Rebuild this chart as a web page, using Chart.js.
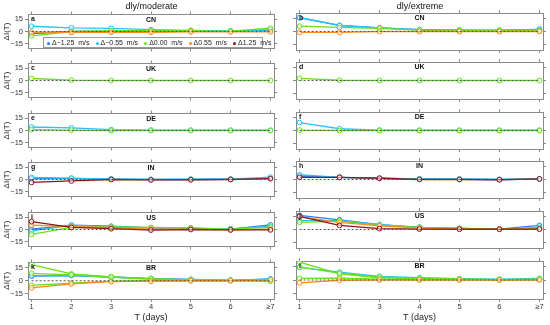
<!DOCTYPE html>
<html>
<head>
<meta charset="utf-8">
<script src="https://cdn.jsdelivr.net/npm/chart.js@4.4.1/dist/chart.umd.min.js"></script>
<style>
  body { margin: 0; background: #fff; width: 550px; height: 325px; position: relative; overflow: hidden;
         font-family: 'Liberation Sans', Arial, sans-serif; }
  canvas { position: absolute; }
  .col-title { position: absolute; top: 0; font-size: 9px; line-height: 12px; text-align: center; color: #111; }
  #legend { position: absolute; left: 43px; top: 37px; width: 215px; height: 9px; border: 1px solid #999;
            background: #fff; display: flex; align-items: center; gap: 6px; padding-left: 3px;
            font-size: 7px; color: #222; white-space: pre; z-index: 5; }
  #legend span.dot { display: inline-block; width: 3px; height: 3px; border-radius: 50%; margin-right: 2px; vertical-align: middle; }
</style>
</head>
<body>
<script>
// ---- data ----
const DAYS = ['1', '2', '3', '4', '5', '6', '≥7'];
const WIND = ['Δ−1.25  m/s', 'Δ−0.55  m/s', 'Δ0.00  m/s', 'Δ0.55  m/s', 'Δ1.25  m/s'];
const COUNTRIES = ['CN', 'UK', 'DE', 'IN', 'US', 'BR'];
const COLUMN_TITLES = ['dly/moderate', 'dly/extreme'];
const LETTERS = ['a', 'b', 'c', 'd', 'e', 'f', 'g', 'h', 'i', 'j', 'k', 'l'];
const Y_TICKS = [-15, 0, 15];

// each row: [wind class index, values for T = 1..≥7]
const CN_MOD = [
  [0, [-2.5, 0, 0.5, 0.5, 0.5, 0.5, 1.5]],
  [1, [6.5, 4.6, 3.8, 2.2, 1.5, 0.8, 2]],
  [2, [-5.4, 0, 1, 1, 1, 0.5, 4]],
  [3, [-0.8, -1.2, -1, -1, -0.5, -0.5, -0.5]]
];
const CN_EXT = [
  [0, [15.5, 7, 4, 2, 1.5, 1.2, 2.5]],
  [1, [16, 6.8, 4, 2, 1.5, 1.5, 2.5]],
  [2, [6, 4.6, 3.6, 1.5, 1, 1, 1]],
  [3, [-1, -1, 0, 0, 0, 0, 0]]
];
const UK_MOD = [
  [2, [2.5, 0.5, 0, 0, 0, 0, 0]]
];
const UK_EXT = [
  [2, [2.5, 0.3, 0, 0, 0, 0, 0]]
];
const DE_MOD = [
  [1, [4.3, 3.2, 1, 0.5, 0.5, 0.3, 0.3]],
  [2, [1, 0.5, 0, 0, 0, 0, 0]]
];
const DE_EXT = [
  [1, [9, 2, 0.5, 0.3, 0.3, 0.3, 0.3]],
  [2, [0.5, 0, 0, 0, 0, 0, 0]]
];
const IN_MOD = [
  [0, [1, 1, 0.5, 0, 0, 0.3, 1.5]],
  [1, [2.5, 1.8, 0.5, 0, 0.5, 0.5, 2.8]],
  [4, [-3.6, -1.8, 0, -0.5, -0.3, 0, 1]]
];
const IN_EXT = [
  [0, [4, 2.5, 1.4, 0.5, 0.3, 0, 0.5]],
  [1, [5.4, 2.5, 1.4, 0.7, 0.5, 0, 0.7]],
  [4, [2.5, 2.5, 1.4, 0, 0, -0.3, 0.7]]
];
const US_MOD = [
  [0, [0.3, 5.4, 4, 2, 1.5, 0.5, 5.7]],
  [1, [-1.8, 5, 3.5, 2, 1.5, 0.8, 4]],
  [2, [-6, 2.5, 3.2, 2.5, 2, 0.5, 2.8]],
  [3, [5.4, 3.5, 2.5, 0.5, 0.5, -0.5, 0.5]],
  [4, [9.7, 2.5, 1, -0.7, 0, -0.5, -0.5]]
];
const US_EXT = [
  [0, [16, 11, 5.4, 2.5, 1.2, 0.5, 4.6]],
  [1, [10, 10, 5.4, 2.5, 1.2, 0.5, 2.5]],
  [2, [8.2, 9.6, 4.6, 2.5, 1.2, 0.5, 1]],
  [3, [14.6, 8, 4, 1.5, 0.5, 0.3, 0.5]],
  [4, [15, 4.6, 1, 0.5, 0.3, 0.3, 0.5]]
];
const BR_MOD = [
  [0, [5.4, 6, 4.3, 2.5, 1.5, 0.5, 2]],
  [1, [6, 6.2, 4.3, 2.5, 1.5, 0.5, 1.8]],
  [2, [18.6, 7.9, 4.3, 2, 1, 0.5, 0.5]],
  [2, [8.6, 6.8, 4.3, 2, 1, 0.5, 0]],
  [2, [-5.4, -2.9, -0.5, 0, 0, 0, -0.5]],
  [3, [-8.2, -3.6, -1, -0.5, 0, 0, 1.4]]
];
const BR_EXT = [
  [1, [14, 8.6, 4, 2.5, 1.5, 1, 1.8]],
  [2, [19.7, 6.8, 2.5, 1.5, 1, 0.5, 1]],
  [2, [14.3, 7.5, 3.2, 2, 1, 0.5, 0.8]],
  [2, [1.8, 2, 1, 0.5, 0.5, 0, 0.5]],
  [3, [-3.2, -0.3, 0, 0, 0, 0, 0]]
];

const PANELS = [
  [CN_MOD, CN_EXT], [UK_MOD, UK_EXT], [DE_MOD, DE_EXT],
  [IN_MOD, IN_EXT], [US_MOD, US_EXT], [BR_MOD, BR_EXT]
];

// ---- style / layout ----
const COLORS = ['#2a7df5', '#26c4f2', '#66e01c', '#ff8a1a', '#8c1515'];
const FONT = "'Liberation Sans', Arial, sans-serif";
const FRAME = '#8a8a8a';
const COL_X = [[28, 275], [296, 544]];
const ZERO0 = 31, ROW_STEP = 49.6, HALF = 19.5;
const LW = 28, TOPH = 4, RW = 4;

Chart.defaults.font.family = FONT;

const panelText = {
  id: 'panelText',
  afterDraw(chart, args, opts) {
    const { ctx, chartArea: a } = chart;
    ctx.save();
    ctx.font = `bold 7px ${FONT}`;
    ctx.fillStyle = '#111';
    ctx.textBaseline = 'middle';
    ctx.fillText(opts.letter, a.left + 3, a.top + 5);
    ctx.textAlign = 'center';
    ctx.fillText(opts.country, (a.left + a.right) / 2, a.top + 5.5);
    ctx.restore();
  }
};

function axisGrid() {
  return { drawOnChartArea: false, tickLength: 3, color: FRAME, lineWidth: 1 };
}

function makePanel(r, c) {
  const [x0, x1] = COL_X[c];
  const z = ZERO0 + r * ROW_STEP;
  const top = Math.round(z - HALF), bottom = Math.round(z + HALF);
  const last = r === PANELS.length - 1;
  const BH = last ? 24 : 4;

  const cv = document.createElement('canvas');
  const w = LW + (x1 - x0) + RW, h = TOPH + (bottom - top) + BH;
  cv.width = w; cv.height = h;
  cv.style.left = (x0 - LW) + 'px';
  cv.style.top = (top - TOPH) + 'px';
  document.body.appendChild(cv);

  const rows = PANELS[r][c];
  const datasets = [{
    data: DAYS.map((d, i) => ({ x: i + 1, y: 0 })),
    borderColor: '#555', borderDash: [2, 2], borderWidth: 1, pointRadius: 0, order: -100
  }];
  rows.forEach(([wi, vals], k) => {
    datasets.push({
      label: WIND[wi],
      data: vals.map((v, i) => ({ x: i + 1, y: v })),
      borderColor: COLORS[wi],
      pointBorderColor: COLORS[wi],
      pointBackgroundColor: 'rgba(255,255,255,0.55)',
      pointRadius: 2.4, pointBorderWidth: 1, borderWidth: 1.3,
      order: -k
    });
  });

  const xTicks = s => { s.ticks = DAYS.map((d, i) => ({ value: i + 1 })); };
  const yTicks = s => { s.ticks = Y_TICKS.map(v => ({ value: v })); };

  new Chart(cv, {
    type: 'line',
    data: { datasets },
    options: {
      responsive: false, animation: false, devicePixelRatio: 1,
      layout: { padding: 0 },
      plugins: { legend: { display: false }, tooltip: { enabled: false },
                 panelText: { letter: LETTERS[r * 2 + c], country: COUNTRIES[r] } },
      scales: {
        x: {
          type: 'linear', position: 'bottom', min: 0.91, max: 7.09,
          afterBuildTicks: xTicks, afterFit: s => { s.height = BH; },
          ticks: { display: last, callback: v => DAYS[v - 1], font: { size: 7.5 }, color: '#333',
                   padding: 0, maxRotation: 0, autoSkip: false },
          grid: axisGrid(), border: { display: true, color: FRAME },
          title: { display: last, text: 'T (days)', font: { size: 9 }, color: '#222', padding: { top: 0, bottom: 0 } }
        },
        xTop: {
          type: 'linear', position: 'top', min: 0.91, max: 7.09,
          afterBuildTicks: xTicks, afterFit: s => { s.height = TOPH; },
          ticks: { display: false }, grid: axisGrid(), border: { display: true, color: FRAME }
        },
        y: {
          type: 'linear', position: 'left', min: -21, max: 21,
          afterBuildTicks: yTicks, afterFit: s => { s.width = LW; },
          ticks: { display: c === 0, callback: v => v < 0 ? '−' + Math.abs(v) : String(v),
                   font: { size: 7.5 }, color: '#333', padding: 2 },
          grid: axisGrid(), border: { display: true, color: FRAME },
          title: { display: c === 0, text: 'ΔI(T)', font: { size: 8 }, color: '#222', padding: { top: 2, bottom: 0 } }
        },
        yRight: {
          type: 'linear', position: 'right', min: -21, max: 21,
          afterBuildTicks: yTicks, afterFit: s => { s.width = RW; },
          ticks: { display: false }, grid: axisGrid(), border: { display: true, color: FRAME }
        }
      }
    },
    plugins: [panelText]
  });
}

for (let r = 0; r < PANELS.length; r++) {
  for (let c = 0; c < 2; c++) makePanel(r, c);
}

// column titles
COLUMN_TITLES.forEach((t, c) => {
  const d = document.createElement('div');
  d.className = 'col-title';
  d.style.left = COL_X[c][0] + 'px';
  d.style.width = (COL_X[c][1] - COL_X[c][0]) + 'px';
  d.textContent = t;
  document.body.appendChild(d);
});

// legend in panel a
const lg = document.createElement('div');
lg.id = 'legend';
WIND.forEach((name, i) => {
  const item = document.createElement('span');
  const dot = document.createElement('span');
  dot.className = 'dot';
  dot.style.background = COLORS[i];
  item.appendChild(dot);
  item.appendChild(document.createTextNode(name));
  lg.appendChild(item);
});
document.body.appendChild(lg);
</script>
</body>
</html>
